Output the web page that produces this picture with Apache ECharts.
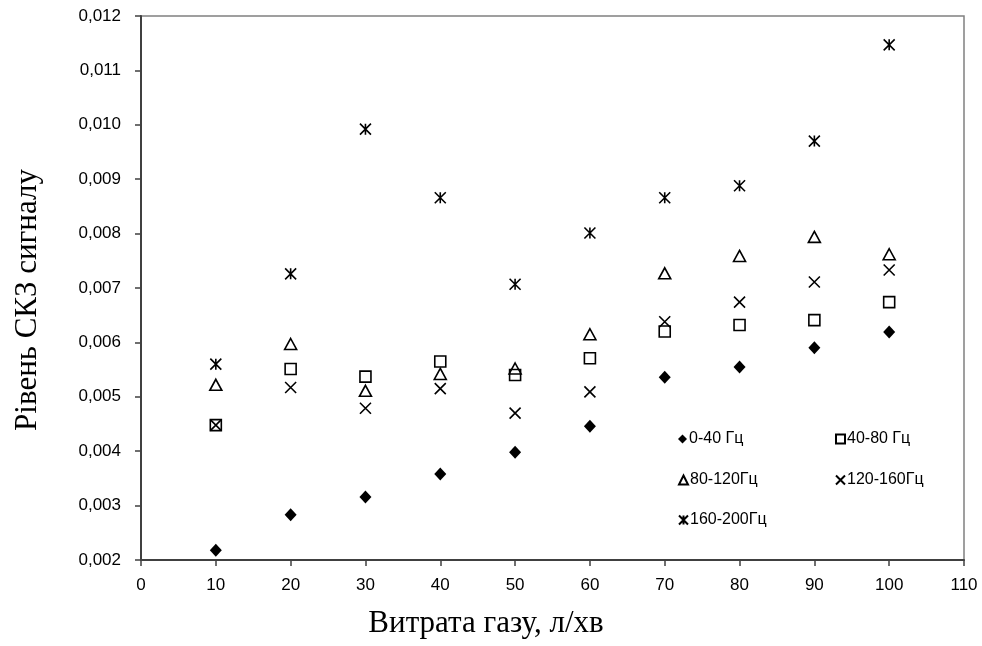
<!DOCTYPE html>
<html>
<head>
<meta charset="utf-8">
<script src="https://cdn.jsdelivr.net/npm/echarts@6/dist/echarts.min.js"></script>
<style>
  html, body { margin: 0; padding: 0; background: #fff; }
  #chart { width: 982px; height: 646px; }
</style>
</head>
<body>
<div id="chart"></div>
<script>
// витрата газу, л/хв
const flow = [10, 20, 30, 40, 50, 60, 70, 80, 90, 100]
// рівень СКЗ по смугах
const band0_40 = [0.00218, 0.00283, 0.00316, 0.00358, 0.00398, 0.00446, 0.00536, 0.00555, 0.00590, 0.00619]
const band40_80 = [0.00448, 0.00551, 0.00537, 0.00565, 0.00540, 0.00571, 0.00620, 0.00632, 0.00641, 0.00674]
const band80_120 = [0.00522, 0.00597, 0.00511, 0.00542, 0.00552, 0.00615, 0.00727, 0.00759, 0.00794, 0.00762]
const band120_160 = [0.00448, 0.00517, 0.00479, 0.00515, 0.00470, 0.00509, 0.00638, 0.00674, 0.00711, 0.00733]
const band160_200 = [0.00560, 0.00726, 0.00992, 0.00866, 0.00707, 0.00801, 0.00866, 0.00888, 0.00970, 0.01147]
const seriesNames = ['0-40 Гц', '40-80 Гц', '80-120Гц', '120-160Гц', '160-200Гц']

const crossPath = 'path://M0,0L10,10M10,0L0,10'
const starPath = 'path://M0,0L10,10M10,0L0,10M5,0L5,10'

const pairs = arr => flow.map((x, i) => [x, arr[i]])

const chart = echarts.init(document.getElementById('chart'))

const lineStyle = { color: 'rgba(0,0,0,0)', borderColor: '#000', borderWidth: 1.6, opacity: 1 }

function legendAt(name, left, top){
    return {
        data: [name],
        left: left,
        top: top,
        itemWidth: 9,
        itemHeight: 9,
        itemGap: 0,
        padding: 0,
        textStyle: { fontFamily: 'Liberation Sans, Arial', fontSize: 16, color: '#000', padding: [0, 0, 0, -3] }
    }
}

const option = {
    animation: false,
    backgroundColor: '#fff',
    grid: {
        left: 141, right: 18, top: 16, bottom: 86,
        show: true, borderColor: '#808080', borderWidth: 1.5
    },
    legend: [
        legendAt(seriesNames[0], 678, 431),
        legendAt(seriesNames[1], 835, 431),
        legendAt(seriesNames[2], 678, 472),
        legendAt(seriesNames[3], 835, 472),
        legendAt(seriesNames[4], 678, 512)
    ],
    xAxis: {
        type: 'value',
        min: 0, max: 110, interval: 10,
        axisLine: { show: true, lineStyle: { color: '#404040', width: 2 } },
        axisTick: { show: true, length: 6, lineStyle: { color: '#404040', width: 1.5 } },
        axisLabel: { margin: 17, color: '#000', fontSize: 17, fontFamily: 'Liberation Sans, Arial' },
        splitLine: { show: false }
    },
    yAxis: {
        type: 'value',
        min: 0.002, max: 0.012, interval: 0.001,
        axisLine: { show: true, lineStyle: { color: '#404040', width: 2 } },
        axisTick: { show: true, length: 6, lineStyle: { color: '#404040', width: 1.5 } },
        axisLabel: {
            margin: 20, color: '#000', fontSize: 17, fontFamily: 'Liberation Sans, Arial',
            formatter: v => v.toFixed(3).replace('.', ',')
        },
        splitLine: { show: false }
    },
    graphic: [
        {
            type: 'text', x: 486, y: 624,
            style: { text: 'Витрата газу, л/хв', fontFamily: 'Liberation Serif, Times New Roman', fontSize: 31, fill: '#000', align: 'center', verticalAlign: 'middle' }
        },
        {
            type: 'text', x: 28, y: 300, rotation: Math.PI / 2,
            style: { text: 'Рівень СКЗ сигналу', fontFamily: 'Liberation Serif, Times New Roman', fontSize: 31, fill: '#000', align: 'center', verticalAlign: 'middle' }
        }
    ],
    series: [
        {
            name: seriesNames[0], type: 'scatter', data: pairs(band0_40),
            symbol: 'diamond', symbolSize: [12, 13],
            itemStyle: { color: '#000', opacity: 1 }
        },
        {
            name: seriesNames[1], type: 'scatter', data: pairs(band40_80),
            symbol: 'rect', symbolSize: 11, itemStyle: lineStyle
        },
        {
            name: seriesNames[2], type: 'scatter', data: pairs(band80_120),
            symbol: 'triangle', symbolSize: [12, 11], itemStyle: lineStyle
        },
        {
            name: seriesNames[3], type: 'scatter', data: pairs(band120_160),
            symbol: crossPath, symbolSize: 11, itemStyle: lineStyle
        },
        {
            name: seriesNames[4], type: 'scatter', data: pairs(band160_200),
            symbol: starPath, symbolSize: 11, itemStyle: lineStyle
        }
    ]
}

chart.setOption(option)
</script>
</body>
</html>
